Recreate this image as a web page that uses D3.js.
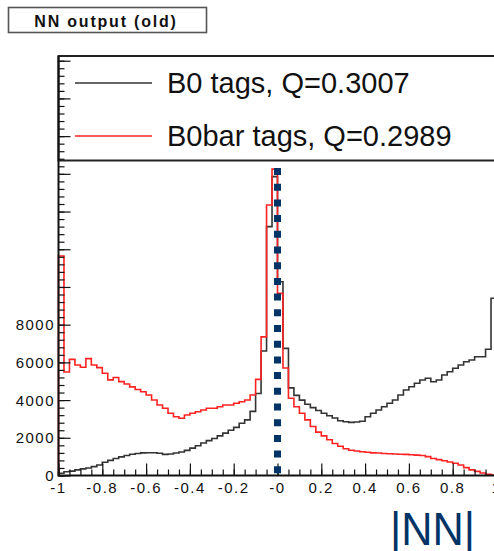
<!DOCTYPE html>
<html>
<head>
<meta charset="utf-8">
<script src="https://cdn.jsdelivr.net/npm/d3@7"></script>
<style>
  body { margin: 0; background: #fff; }
  svg { display: block; font-family: "Liberation Sans", Arial, sans-serif; }
</style>
</head>
<body>
<svg id="chart" width="494" height="551"></svg>
<script>
// histogram binning: 80 bins on [-1, 1]
var xMin = -1, xMax = 1, nBins = 80;

// B0 tags (black)
var b0Counts = [120, 200, 230, 300, 350, 400, 470, 560, 700, 800,
  900, 990, 1060, 1130, 1170, 1200, 1210, 1210, 1180, 1120,
  1140, 1190, 1250, 1330, 1450, 1580, 1720, 1850, 1960, 2100,
  2250, 2400, 2550, 2770, 2950, 3400, 4350, 6600, 13200, 15850,
  10280, 6745, 4650, 4250, 4000, 3780, 3600, 3450, 3300, 3170,
  3050, 2900, 2850, 2820, 2840, 2880, 3120, 3300, 3475, 3650,
  3830, 4005, 4270, 4535, 4710, 4890, 5065, 5155, 4975, 5065,
  5330, 5505, 5685, 5860, 6035, 6125, 6300, 6300, 6700, 9400];

// B0bar tags (red)
var b0barCounts = [11640, 5490, 6160, 5860, 5740, 6200, 5860, 5720, 5420, 5070,
  5200, 4980, 4850, 4700, 4560, 4445, 4270, 4005, 3740, 3565,
  3300, 3120, 3035, 3210, 3300, 3385, 3475, 3565, 3565, 3650,
  3740, 3740, 3830, 3915, 4005, 4270, 5100, 7350, 14350, 16250,
  9660, 5700, 4100, 3650, 3300, 2950, 2600, 2300, 2100, 1900,
  1700, 1550, 1420, 1340, 1300, 1260, 1230, 1200, 1190, 1170,
  1150, 1140, 1130, 1120, 1100, 1080, 1060, 1000, 900, 840,
  780, 720, 650, 560, 420, 300, 220, 130, 70, 30];

var legendLabels = ["B0 tags, Q=0.3007", "B0bar tags, Q=0.2989"];
var xTickValues = [-1, -0.8, -0.6, -0.4, -0.2, 0, 0.2, 0.4, 0.6, 0.8, 1];
var xTickLabels = ["-1", "-0.8", "-0.6", "-0.4", "-0.2", "-0", "0.2", "0.4", "0.6", "0.8", "1"];
var yTickValues = [0, 2000, 4000, 6000, 8000];
var yTickLabels = ["0", "2000", "4000", "6000", "8000"];
var yMax = 22250;
var cutValue = 0;

var svg = d3.select("#chart");
var x = d3.scaleLinear().domain([xMin, xMax]).range([58.5, 496.5]);
var y = d3.scaleLinear().domain([0, yMax]).range([475.5, 56]);
var binW = (xMax - xMin) / nBins;

function histPath(counts) {
  var p = d3.path();
  p.moveTo(x(xMin), y(0));
  counts.forEach(function(c, i) {
    var x0 = x(xMin + i * binW), x1 = x(xMin + (i + 1) * binW);
    p.lineTo(x0, y(c));
    p.lineTo(x1, y(c));
  });
  p.lineTo(x(xMax), y(0));
  return p.toString();
}

// title box
svg.append("rect").attr("x", 8.5).attr("y", 7.5).attr("width", 198).attr("height", 25)
  .attr("fill", "#fff").attr("stroke", "#555").attr("stroke-width", 1.6);
svg.append("text").attr("x", 106).attr("y", 27).attr("text-anchor", "middle")
  .attr("font-size", 16).attr("font-weight", "bold").attr("letter-spacing", "1.8px")
  .attr("fill", "#111").text("NN output (old)");

// histograms
svg.append("path").attr("d", histPath(b0Counts))
  .attr("fill", "none").attr("stroke", "#333").attr("stroke-width", 1.6);
svg.append("path").attr("d", histPath(b0barCounts))
  .attr("fill", "none").attr("stroke", "#f22").attr("stroke-width", 1.6);

// legend box across the top of the frame
svg.append("rect").attr("x", x(xMin)).attr("y", 56).attr("width", 440).attr("height", 104.5)
  .attr("fill", "#fff").attr("stroke", "#222").attr("stroke-width", 2);
var legColors = ["#333", "#f22"];
var legY = [83, 136];
legendLabels.forEach(function(t, i) {
  svg.append("line").attr("x1", 75).attr("x2", 152).attr("y1", legY[i]).attr("y2", legY[i])
    .attr("stroke", legColors[i]).attr("stroke-width", 1.6);
  svg.append("text").attr("x", 167).attr("y", legY[i] + 10).attr("font-size", 29)
    .attr("fill", "#111").text(t);
});

// y axis
var yAxis = d3.axisRight(y).tickValues(d3.range(0, yMax, 2000)).tickSize(12).tickFormat("");
var yMinor = d3.axisRight(y).tickValues(d3.range(0, yMax, 400)).tickSize(6).tickFormat("");
var gy = svg.append("g").attr("transform", "translate(" + x(xMin) + ",0)");
gy.call(yMinor); gy.append("g").call(yAxis);
gy.selectAll("path.domain").remove();
gy.selectAll("line").attr("stroke", "#111").attr("stroke-width", 1.2);
svg.append("line").attr("x1", x(xMin)).attr("x2", x(xMin)).attr("y1", 56).attr("y2", 476.5)
  .attr("stroke", "#111").attr("stroke-width", 2);
yTickValues.forEach(function(v, i) {
  svg.append("text").attr("x", 55).attr("y", y(v) + 5.5).attr("text-anchor", "end")
    .attr("font-size", 15).attr("letter-spacing", "1.5px").attr("fill", "#111").text(yTickLabels[i]);
});

// x axis
var xAxis = d3.axisTop(x).tickValues(xTickValues).tickSize(12).tickFormat("");
var xMinor = d3.axisTop(x).tickValues(d3.range(-1, 1.0001, 0.05)).tickSize(6).tickFormat("");
var gx = svg.append("g").attr("transform", "translate(0," + y(0) + ")");
gx.call(xMinor); gx.append("g").call(xAxis);
gx.selectAll("path.domain").remove();
gx.selectAll("line").attr("stroke", "#111").attr("stroke-width", 1.2);
svg.append("line").attr("x1", x(xMin)).attr("x2", 494).attr("y1", y(0)).attr("y2", y(0))
  .attr("stroke", "#111").attr("stroke-width", 2);
xTickValues.forEach(function(v, i) {
  svg.append("text").attr("x", x(v)).attr("y", 493).attr("text-anchor", "middle")
    .attr("font-size", 15).attr("letter-spacing", "1.5px").attr("fill", "#111").text(xTickLabels[i]);
});

// cut line at 0
svg.append("line").attr("x1", x(cutValue)).attr("x2", x(cutValue)).attr("y1", 168).attr("y2", 479)
  .attr("stroke", "#003366").attr("stroke-width", 7).attr("stroke-dasharray", "7 8.7");

// axis title
svg.append("text").attr("x", 390).attr("y", 545).attr("font-size", 47)
  .attr("textLength", 85).attr("lengthAdjust", "spacingAndGlyphs")
  .attr("fill", "#003366").text("|NN|");
</script>
</body>
</html>
